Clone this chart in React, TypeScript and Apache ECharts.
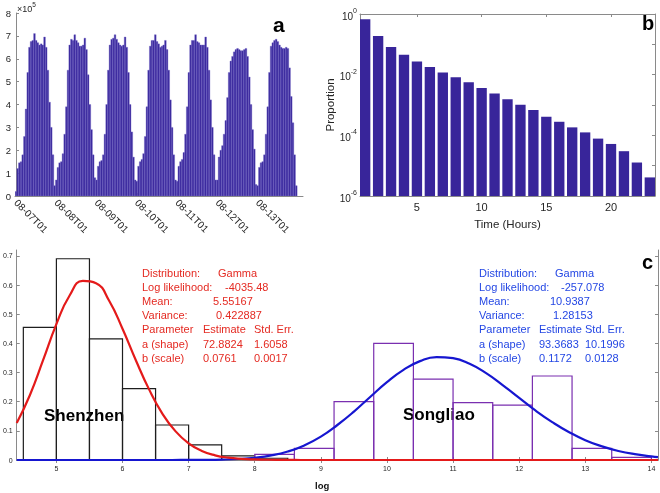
import React, { useEffect, useRef } from 'react';
import * as echarts from 'echarts';

// ---------- Panel a: hourly counts (x 10^5) ----------
const dayLabels = ['08-07T01', '08-08T01', '08-09T01', '08-10T01', '08-11T01', '08-12T01', '08-13T01'];
const day1 = [0.2, 1.2, 1.45, 1.5, 1.8, 2.6, 3.8, 5.4, 6.5, 6.75, 6.8, 7.1, 6.8, 6.7, 6.6, 6.65, 6.6, 6.95, 6.5, 5.5, 4.1, 3.0, 1.8, 0.45];
const day2 = [0.7, 1.25, 1.45, 1.5, 1.85, 2.7, 3.9, 5.5, 6.6, 6.85, 6.8, 7.05, 6.8, 6.7, 6.55, 6.55, 6.6, 6.9, 6.4, 5.3, 4.0, 2.9, 1.8, 0.8];
const day3 = [0.7, 1.3, 1.5, 1.55, 1.8, 2.7, 4.0, 5.5, 6.6, 6.85, 6.9, 7.05, 6.85, 6.7, 6.6, 6.55, 6.6, 6.95, 6.5, 5.4, 4.0, 2.8, 1.7, 0.7];
const day4 = [0.65, 1.3, 1.5, 1.6, 1.85, 2.6, 3.9, 5.5, 6.55, 6.8, 6.8, 7.05, 6.75, 6.65, 6.5, 6.55, 6.6, 6.8, 6.4, 5.5, 4.2, 3.0, 1.8, 0.7];
const day5 = [0.65, 1.3, 1.5, 1.6, 1.9, 2.7, 3.9, 5.4, 6.6, 6.8, 6.8, 7.05, 6.75, 6.7, 6.6, 6.6, 6.6, 6.95, 6.5, 5.5, 4.2, 3.0, 1.8, 0.7];
const day6 = [0.7, 1.7, 2.0, 2.2, 2.7, 3.3, 4.3, 5.4, 5.9, 6.1, 6.3, 6.4, 6.45, 6.4, 6.35, 6.35, 6.4, 6.45, 6.1, 5.2, 4.0, 2.9, 2.05, 0.5];
const day7 = [0.45, 1.25, 1.45, 1.5, 1.8, 2.7, 3.9, 5.4, 6.55, 6.7, 6.8, 6.85, 6.75, 6.6, 6.5, 6.45, 6.45, 6.5, 6.45, 5.6, 4.35, 3.2, 1.8, 0.45];
const hourlyCounts = [...day1, ...day2, ...day3, ...day4, ...day5, ...day6, ...day7];

// ---------- Panel b: proportion by hours ----------
const hoursB = [1, 2, 3, 4, 5, 6, 7, 8, 9, 10, 11, 12, 13, 14, 15, 16, 17, 18, 19, 20, 21, 22, 23];
const proportion = [0.67, 0.19, 0.081, 0.045, 0.027, 0.0178, 0.0119, 0.0082, 0.0056, 0.00366, 0.00238, 0.00155, 0.00101, 0.00068, 0.00041, 0.00028, 0.000183, 0.000125, 0.000078, 0.000052, 0.00003, 0.0000127, 0.0000041];
const bTicks = [5, 10, 15, 20];

// ---------- Panel c: histograms and fitted gamma curves ----------
const shenzhenEdges = [4.5, 5, 5.5, 6, 6.5, 7, 7.5, 8, 8.5];
const shenzhenHeights = [0.455, 0.69, 0.415, 0.245, 0.12, 0.052, 0.014, 0.006];
const songliaoEdges = [8.0, 8.6, 9.2, 9.8, 10.4, 11.0, 11.6, 12.2, 12.8, 13.4, 14.0];
const songliaoHeights = [0.019, 0.04, 0.2, 0.4, 0.277, 0.197, 0.188, 0.288, 0.04, 0.009];
const redX = [4.4, 4.6, 4.8, 5.0, 5.2, 5.4, 5.6, 5.8, 6.0, 6.2, 6.4, 6.6, 6.8, 7.0, 7.2, 7.4, 7.6, 7.8, 8.0, 8.2, 8.4, 8.6, 8.8, 9.0, 10, 11, 12, 13, 14.1];
const redY = [0.127, 0.223, 0.343, 0.466, 0.564, 0.614, 0.606, 0.545, 0.45, 0.343, 0.243, 0.16, 0.099, 0.057, 0.031, 0.016, 0.008, 0.004, 0.002, 0.0008, 0.0003, 0.0001, 0, 0, 0, 0, 0, 0, 0];
const blueX = [4.4, 5.0, 5.5, 6.0, 6.25, 6.5, 6.75, 7.0, 7.25, 7.5, 7.75, 8.0, 8.25, 8.5, 8.75, 9.0, 9.25, 9.5, 9.75, 10.0, 10.25, 10.5, 10.75, 11.0, 11.25, 11.5, 11.75, 12.0, 12.25, 12.5, 12.75, 13.0, 13.25, 13.5, 13.75, 14.0, 14.1];
const blueY = [0, 0, 0, 0, 0, 0.00001, 0.00005, 0.0002, 0.0005, 0.0014, 0.0035, 0.0077, 0.0156, 0.029, 0.05, 0.08, 0.12, 0.166, 0.217, 0.267, 0.309, 0.339, 0.353, 0.349, 0.33, 0.298, 0.257, 0.213, 0.169, 0.13, 0.096, 0.068, 0.047, 0.031, 0.02, 0.0126, 0.01];
const cXTicks = [5, 6, 7, 8, 9, 10, 11, 12, 13, 14];
const cYTicks = [0, 0.1, 0.2, 0.3, 0.4, 0.5, 0.6, 0.7];

const redLines = [
  ['Distribution:', 'Gamma'],
  ['Log likelihood:', '-4035.48'],
  ['Mean:', '5.55167'],
  ['Variance:', '0.422887'],
  ['Parameter', 'Estimate', 'Std. Err.'],
  ['a (shape)', '72.8824', '1.6058'],
  ['b (scale)', '0.0761', '0.0017'],
];
const blueLines = [
  ['Distribution:', 'Gamma'],
  ['Log likelihood:', '-257.078'],
  ['Mean:', '10.9387'],
  ['Variance:', '1.28153'],
  ['Parameter', 'Estimate', 'Std. Err.'],
  ['a (shape)', '93.3683', '10.1996'],
  ['b (scale)', '0.1172', '0.0128'],
];

const FONT = '"Liberation Sans", Arial, Helvetica, sans-serif';
const AX = '#262626';
const LINE = '#8a8a8a';

function boxText(lines: string[][], color: string, x0: number, cols2: number[], cols3: number[]) {
  const out: any[] = [];
  const y0 = 273;
  const dy = 14.1;
  lines.forEach((row, i) => {
    const y = y0 + i * dy;
    const xs = row.length === 3 ? [x0, cols3[0], cols3[1]] : [x0, cols2[i]];
    row.forEach((t, j) => {
      out.push({
        type: 'text',
        x: xs[j],
        y,
        style: { text: t, fill: color, font: `11px ${FONT}`, verticalAlign: 'middle', align: 'left' },
      });
    });
  });
  return out;
}

export default function App() {
  const ref = useRef<HTMLDivElement>(null);
  useEffect(() => {
    if (!ref.current) return;
    const chart = echarts.init(ref.current, undefined, { renderer: 'svg' });

    const aData = hourlyCounts.map((v, i) => [i, v]);
    const bData = hoursB.map((h, i) => [h, proportion[i]]);
    const szData = shenzhenHeights.map((h, i) => [shenzhenEdges[i], shenzhenEdges[i + 1], h]);
    const slData = songliaoHeights.map((h, i) => [songliaoEdges[i], songliaoEdges[i + 1], h]);
    const redData = redX.map((x, i) => [x, redY[i]]);
    const blueData = blueX.map((x, i) => [x, blueY[i]]);
    const aTickVals = dayLabels.map((_, i) => i * 24);

    const histRender = (stroke: string) => (params: any, api: any) => {
      const p0 = api.coord([api.value(0), api.value(2)]);
      const p1 = api.coord([api.value(1), 0]);
      return {
        type: 'rect',
        shape: { x: p0[0], y: p0[1], width: p1[0] - p0[0], height: p1[1] - p0[1] },
        style: { fill: 'none', stroke, lineWidth: 1.2 },
      };
    };

    const logLabel = (v: number) => {
      const e = Math.round(Math.log10(v));
      return e % 2 === 0 ? '{b|10}{s|' + e + '}' : '';
    };

    const option: any = {
      animation: false,
      textStyle: { fontFamily: FONT },
      grid: [
        { left: 15, top: 13, width: 288, height: 183 },
        { left: 360, top: 14, width: 295, height: 182 },
        { left: 14, top: 250, width: 644, height: 210 },
      ],
      xAxis: [
        {
          gridIndex: 0, type: 'value', min: -0.6, max: 171,
          axisLine: { show: true, lineStyle: { color: LINE } },
          axisTick: { show: true, inside: true, length: 3, customValues: aTickVals, lineStyle: { color: LINE } },
          axisLabel: {
            customValues: aTickVals, rotate: -45, color: AX, fontSize: 10, margin: 5,
            formatter: (v: number) => dayLabels[Math.round(v / 24)] ?? '',
          },
          splitLine: { show: false },
        },
        {
          gridIndex: 1, type: 'value', min: 0.6, max: 23.4,
          name: 'Time (Hours)', nameLocation: 'middle', nameGap: 22,
          nameTextStyle: { color: AX, fontSize: 11.5, fontFamily: FONT },
          axisLine: { show: true, lineStyle: { color: LINE } },
          axisTick: { show: true, inside: true, length: 3, customValues: bTicks, lineStyle: { color: LINE } },
          axisLabel: { customValues: bTicks, color: AX, fontSize: 11, margin: 5 },
          splitLine: { show: false },
        },
        {
          gridIndex: 1, type: 'value', position: 'top', min: 0.6, max: 23.4,
          axisLine: { show: true, lineStyle: { color: LINE } },
          axisTick: { show: true, inside: true, length: 3, customValues: bTicks, lineStyle: { color: LINE } },
          axisLabel: { show: false },
          splitLine: { show: false },
        },
        {
          gridIndex: 2, type: 'value', min: 4.4, max: 14.1,
          axisLine: { show: true, lineStyle: { color: LINE } },
          axisTick: { show: true, inside: true, length: 3, customValues: cXTicks, lineStyle: { color: LINE } },
          axisLabel: { customValues: cXTicks, color: AX, fontSize: 7, margin: 5 },
          splitLine: { show: false },
        },
        {
          gridIndex: 2, type: 'value', position: 'top', min: 4.4, max: 14.1,
          axisLine: { show: true, lineStyle: { color: LINE } },
          axisTick: { show: true, inside: true, length: 3, customValues: cXTicks, lineStyle: { color: LINE } },
          axisLabel: { show: false },
          splitLine: { show: false },
        },
      ],
      yAxis: [
        {
          gridIndex: 0, type: 'value', min: 0, max: 8, interval: 1,
          axisLine: { show: true, lineStyle: { color: LINE } },
          axisTick: { show: true, inside: true, length: 3, lineStyle: { color: LINE } },
          axisLabel: { color: AX, fontSize: 9.5, margin: 4 },
          splitLine: { show: false },
        },
        {
          gridIndex: 1, type: 'log', logBase: 10, min: 1e-6, max: 1, interval: 1,
          name: 'Proportion', nameLocation: 'middle', nameGap: 20, nameRotate: 90,
          nameTextStyle: { color: AX, fontSize: 11.5, fontFamily: FONT },
          axisLine: { show: true, lineStyle: { color: LINE } },
          axisTick: { show: true, inside: true, length: 3, lineStyle: { color: LINE } },
          axisLabel: {
            color: AX, fontSize: 10, margin: 3,
            formatter: logLabel,
            rich: {
              b: { fontSize: 10, color: AX, lineHeight: 14, verticalAlign: 'bottom' },
              s: { fontSize: 7, color: AX, lineHeight: 14, verticalAlign: 'top' },
            },
          },
          splitLine: { show: false },
        },
        {
          gridIndex: 1, type: 'log', logBase: 10, min: 1e-6, max: 1, interval: 1, position: 'right',
          axisLine: { show: true, lineStyle: { color: LINE } },
          axisTick: { show: true, inside: true, length: 3, lineStyle: { color: LINE } },
          axisLabel: { show: false },
          splitLine: { show: false },
        },
        {
          gridIndex: 2, type: 'value', min: 0, max: 0.72,
          axisLine: { show: true, lineStyle: { color: LINE } },
          axisTick: { show: true, inside: true, length: 3, customValues: cYTicks, lineStyle: { color: LINE } },
          axisLabel: { customValues: cYTicks, color: AX, fontSize: 7, margin: 4 },
          splitLine: { show: false },
        },
        {
          gridIndex: 2, type: 'value', min: 0, max: 0.72, position: 'right',
          axisLine: { show: true, lineStyle: { color: LINE } },
          axisTick: { show: true, inside: true, length: 3, customValues: cYTicks, lineStyle: { color: LINE } },
          axisLabel: { show: false },
          splitLine: { show: false },
        },
      ],
      series: [
        {
          type: 'custom', xAxisIndex: 0, yAxisIndex: 0, data: aData, clip: true,
          renderItem: (params: any, api: any) => {
            const i = api.value(0);
            const p0 = api.coord([i - 0.5, api.value(1)]);
            const p1 = api.coord([i + 0.5, 0]);
            return {
              type: 'rect',
              shape: { x: p0[0], y: p0[1], width: p1[0] - p0[0], height: p1[1] - p0[1] },
              style: { fill: '#36249a', stroke: '#7468c8', lineWidth: 0.4 },
            };
          },
        },
        {
          type: 'custom', xAxisIndex: 1, yAxisIndex: 1, data: bData, clip: true,
          renderItem: (params: any, api: any) => {
            const h = api.value(0);
            const p0 = api.coord([h - 0.4, api.value(1)]);
            const p1 = api.coord([h + 0.4, 1e-6]);
            return {
              type: 'rect',
              shape: { x: p0[0], y: p0[1], width: p1[0] - p0[0], height: p1[1] - p0[1] },
              style: { fill: '#38259a' },
            };
          },
        },
        {
          type: 'custom', xAxisIndex: 3, yAxisIndex: 3, data: szData, clip: true,
          encode: { x: [0, 1], y: 2 },
          renderItem: histRender('#1e1e1e'),
        },
        {
          type: 'line', xAxisIndex: 3, yAxisIndex: 3, data: blueData, smooth: true,
          showSymbol: false, symbol: 'none', lineStyle: { color: '#1616d0', width: 2.2 },
        },
        {
          type: 'custom', xAxisIndex: 3, yAxisIndex: 3, data: slData, clip: true,
          encode: { x: [0, 1], y: 2 },
          renderItem: histRender('#7a2fb0'),
        },
        {
          type: 'line', xAxisIndex: 3, yAxisIndex: 3, data: redData, smooth: true,
          showSymbol: false, symbol: 'none', lineStyle: { color: '#e41a1a', width: 2.2 },
        },
      ],
      graphic: [
        {
          type: 'text', x: 17, y: 1,
          style: {
            text: '{m|×10}{s|5}', font: `9px ${FONT}`, fill: AX,
            rich: {
              m: { fontSize: 9, fill: AX, lineHeight: 12, verticalAlign: 'bottom' },
              s: { fontSize: 6.5, fill: AX, lineHeight: 12, verticalAlign: 'top' },
            },
          },
        },
        { type: 'text', x: 273, y: 24, style: { text: 'a', font: `bold 21px ${FONT}`, fill: '#000', verticalAlign: 'middle' } },
        { type: 'text', x: 642, y: 23, style: { text: 'b', font: `bold 20px ${FONT}`, fill: '#000', verticalAlign: 'middle' } },
        { type: 'text', x: 642, y: 262, style: { text: 'c', font: `bold 20px ${FONT}`, fill: '#000', verticalAlign: 'middle' } },
        { type: 'text', x: 44, y: 415, style: { text: 'Shenzhen', font: `bold 17px ${FONT}`, fill: '#000', verticalAlign: 'middle' } },
        { type: 'text', x: 403, y: 414, style: { text: 'Songliao', font: `bold 17px ${FONT}`, fill: '#000', verticalAlign: 'middle' } },
        { type: 'text', x: 315, y: 485, style: { text: 'log', font: `bold 9.5px ${FONT}`, fill: '#111', verticalAlign: 'middle' } },
        ...boxText(redLines, '#e42a22', 142, [218, 225, 213, 216], [203, 254]),
        ...boxText(blueLines, '#2447e4', 479, [555, 561, 550, 553], [539, 585]),
      ],
    };
    chart.setOption(option);
    return () => chart.dispose();
  }, []);
  return <div ref={ref} style={{ position: 'fixed', left: 0, top: 0, width: 660, height: 493 }} />;
}
